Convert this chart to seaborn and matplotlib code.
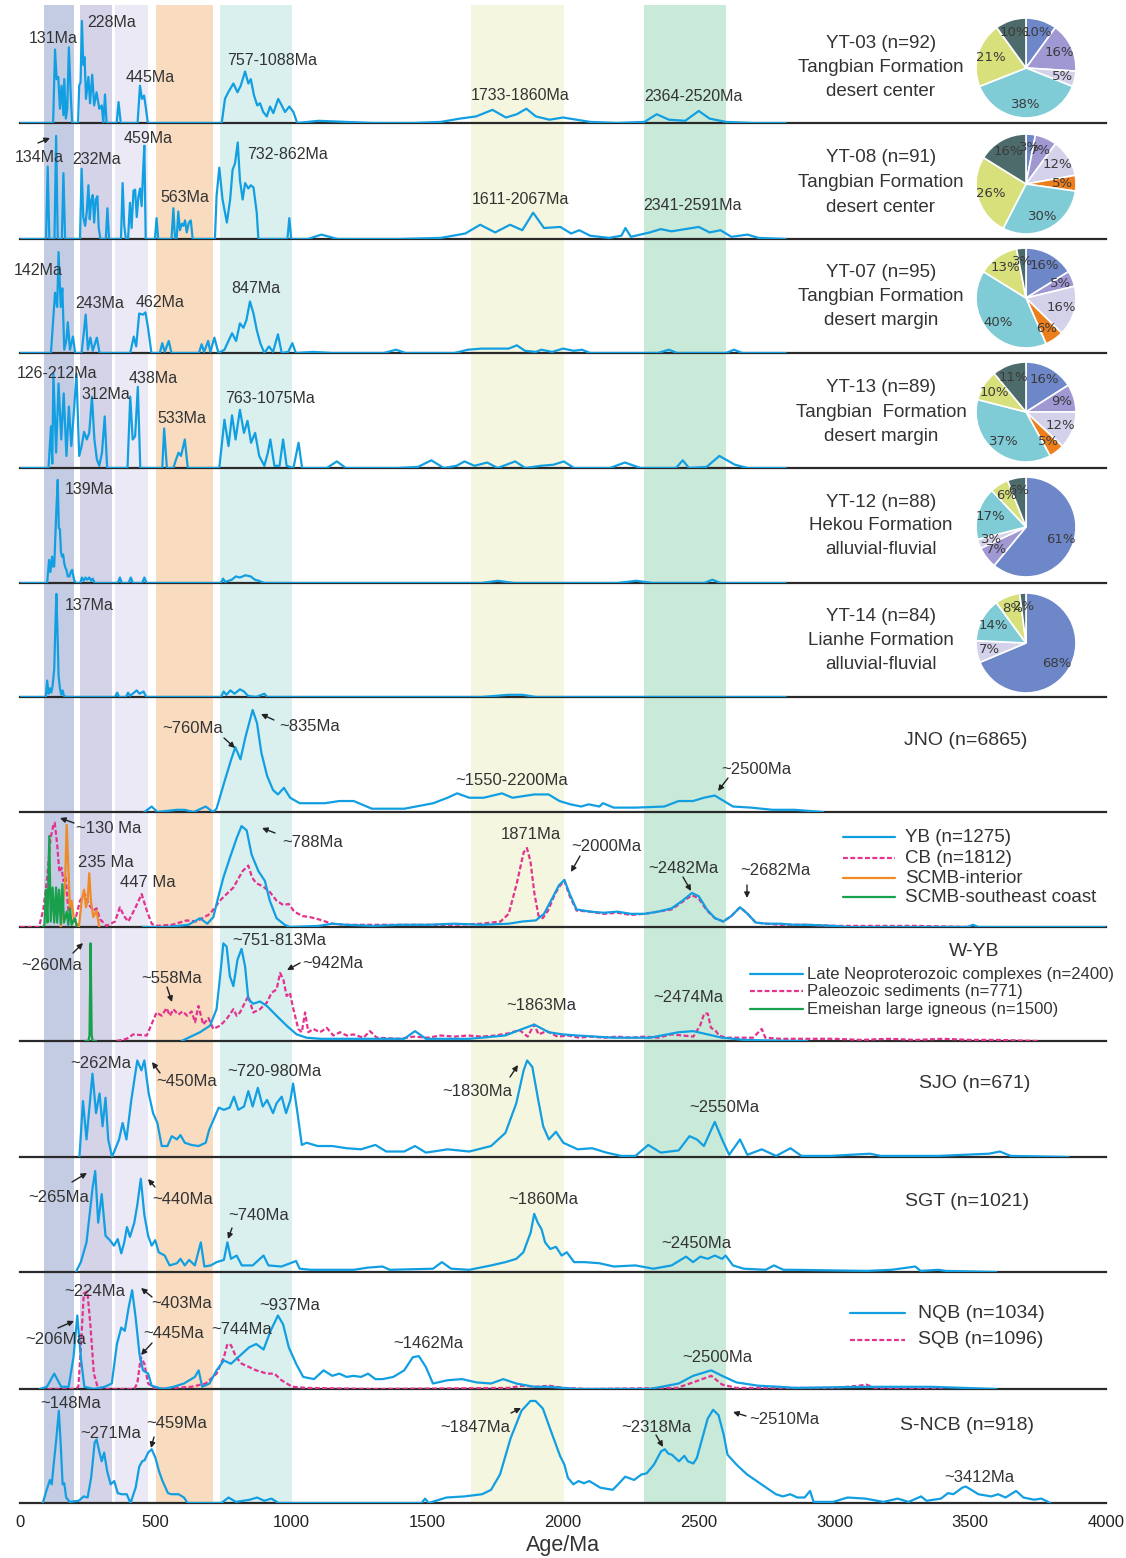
import numpy as np
import pandas as pd
import matplotlib
matplotlib.use("Agg")
import matplotlib.pyplot as plt
import seaborn as sns

# ---------------------------------------------------------------- data
# Relative probability curves: (age in Ma, relative probability, 0-100 scale)
YT03 = [(0,0),(122,0),(129,67),(135,40),(141,42),(147,13),(153,34),(160,7),(163,40),(169,4),(174,13),(180,69),
        (187,25),(192,0),(214,0),(218,34),(223,37),(228,93),(233,53),(238,60),(243,22),(252,42),(258,18),(266,44),
        (273,16),(282,28),(292,13),(301,16),(307,0),(313,26),(319,0),(356,0),(363,19),(371,0),(433,0),(442,34),
        (449,22),(457,25),(464,13),(471,0),(743,0),(755,22),(767,28),(786,36),(801,28),(813,34),(829,47),(841,36),
        (850,40),(862,25),(874,16),(884,18),(896,10),(909,6),(921,15),(933,9),(951,22),(964,16),(976,10),(992,15),
        (1007,10),(1021,0),(1100,2),(1200,1),(1300,0),(1450,0),(1550,1),(1620,4),(1680,6),(1740,12),(1790,5),
        (1830,8),(1865,13),(1900,6),(1950,3),(2000,5),(2050,3),(2100,1),(2200,0),(2300,1),(2345,8),(2390,3),
        (2450,2),(2500,11),(2540,4),(2600,1),(2700,0),(2820,0)]
YT08 = [(0,0),(96,0),(102,66),(108,0),(127,0),(133,94),(139,0),(154,0),(160,60),(166,0),(221,0),(227,64),(233,20),
        (240,12),(246,25),(252,49),(257,18),(262,35),(268,40),(273,15),(279,36),(285,39),(290,10),(296,0),(316,0),
        (322,28),(328,0),(372,0),(378,51),(384,12),(390,0),(398,0),(405,33),(411,10),(418,44),(424,45),(430,20),
        (436,38),(442,46),(448,30),(453,60),(458,85),(463,0),(497,0),(503,19),(509,0),(558,0),(565,28),(571,0),
        (577,0),(583,25),(589,8),(596,14),(602,12),(608,17),(614,6),(622,15),(629,17),(636,0),(718,0),(724,39),
        (734,65),(746,36),(762,15),(774,36),(783,63),(792,69),(802,88),(810,54),(820,36),(829,51),(841,46),
        (850,49),(860,47),(872,24),(878,0),(985,0),(992,19),(999,0),(1060,0),(1110,4),(1170,0),(1400,0),(1550,1),
        (1640,5),(1695,13),(1750,6),(1805,13),(1850,8),(1890,24),(1930,10),(1990,11),(2030,5),(2060,8),(2100,3),
        (2170,1),(2215,3),(2230,10),(2250,2),(2320,6),(2360,9),(2400,7),(2450,9),(2500,11),(2540,6),(2580,8),
        (2620,2),(2680,4),(2720,1),(2820,0)]
YT07 = [(0,0),(114,0),(129,55),(137,42),(142,92),(150,42),(156,59),(163,3),(171,12),(176,28),(184,3),(195,15),
        (203,0),(227,0),(242,35),(250,3),(259,14),(268,2),(283,14),(293,0),(406,0),(419,15),(428,6),(439,36),
        (453,35),(462,37),(471,24),(484,0),(515,0),(524,9),(533,1),(548,11),(558,0),(659,0),(669,8),(678,1),
        (693,11),(701,1),(716,14),(731,0),(753,3),(781,18),(796,11),(810,27),(823,23),(834,30),(847,47),(860,36),
        (872,21),(885,9),(900,0),(917,6),(932,1),(950,17),(964,0),(988,1),(1003,9),(1016,0),(1080,1),(1150,0),
        (1340,0),(1385,3),(1420,0),(1600,0),(1650,3),(1700,4),(1760,4),(1800,4),(1830,7),(1860,2),(1900,1),
        (1920,3),(1960,1),(2000,4),(2040,2),(2070,3),(2100,0),(2350,0),(2390,3),(2420,0),(2600,0),(2630,3),
        (2660,0),(2820,0)]
YT13 = [(0,0),(105,0),(114,38),(119,4),(123,86),(133,14),(142,77),(152,26),(161,68),(171,11),(180,56),(189,20),
        (199,53),(208,86),(218,11),(227,20),(236,33),(246,26),(255,32),(265,65),(274,26),(283,8),(292,2),(302,14),
        (312,47),(321,0),(396,0),(406,65),(415,26),(424,29),(434,74),(443,0),(524,0),(531,36),(541,0),(565,0),
        (575,8),(584,14),(593,11),(607,26),(618,0),(734,0),(753,44),(768,20),(781,48),(794,26),(810,53),(825,32),
        (838,43),(851,23),(866,32),(881,11),(900,2),(913,14),(922,26),(937,2),(956,2),(969,26),(982,2),(1007,0),
        (1026,23),(1039,0),(1130,0),(1167,6),(1200,0),(1390,0),(1466,1),(1515,7),(1561,0),(1608,2),(1637,6),
        (1674,2),(1721,5),(1759,0),(1824,6),(1861,0),(1918,2),(1965,3),(2003,6),(2041,0),(2173,0),(2228,5),
        (2285,0),(2416,0),(2441,7),(2464,0),(2529,1),(2576,11),(2633,3),(2680,0),(2820,0)]
YT12 = [(0,0),(100,0),(107,21),(112,10),(118,24),(122,15),(126,15),(134,67),(139,94),(143,50),(147,49),(151,28),
        (155,24),(159,26),(163,18),(167,14),(171,12),(176,6),(182,6),(187,10),(192,12),(199,3),(206,0),(222,0),
        (228,5),(235,2),(241,5),(248,3),(255,5),(262,2),(268,4),(275,0),(360,0),(368,5),(375,0),(400,0),(408,5),
        (416,0),(450,0),(458,5),(466,0),(740,0),(748,4),(756,1),(780,3),(795,6),(810,5),(830,7),(850,6),(865,3),
        (880,2),(900,0),(1700,0),(1760,2),(1820,0),(2200,0),(2270,2),(2330,0),(2520,0),(2550,3),(2580,0),(2820,0)]
YT14 = [(0,0),(95,0),(100,15),(105,3),(110,8),(115,4),(120,10),(126,25),(131,70),(134,94),(138,60),(142,20),
        (147,8),(152,2),(157,6),(162,1),(170,0),(350,0),(358,4),(365,0),(390,0),(398,4),(405,1),(420,4),(430,6),
        (440,3),(455,5),(465,0),(740,0),(750,5),(760,2),(775,6),(790,3),(810,7),(825,5),(840,1),(870,0),(900,3),
        (910,0),(1700,0),(1800,2),(1850,2),(1900,0),(2820,0)]
JNO = [(458,0),(485,5),(506,0),(578,2),(605,2),(640,0),(684,5),(711,0),(724,3),(751,26),(778,48),(793,59),(812,48),
       (831,69),(857,93),(873,81),(889,54),(910,33),(932,20),(950,16),(972,22),(995,13),(1030,8),(1123,8),
       (1176,10),(1229,10),(1296,3),(1416,3),(1522,8),(1575,13),(1610,17),(1655,13),(1708,13),(1775,17),
       (1814,13),(1894,16),(1947,16),(1987,10),(2027,7),(2067,5),(2094,7),(2134,5),(2147,8),(2187,4),(2267,4),
       (2373,5),(2426,10),(2479,10),(2519,13),(2559,15),(2586,11),(2626,5),(2692,4),(2772,2),(2852,2),(2958,0)]
YB = [(454,0),(540,0),(620,2),(663,8),(690,3),(712,9),(730,27),(749,45),(773,63),(798,81),(816,92),(835,88),
      (853,66),(878,51),(902,42),(920,24),(945,8),(975,2),(994,0),(1100,1),(1150,3),(1200,2),(1300,1),(1400,2),
      (1500,2),(1600,3),(1700,2),(1800,3),(1850,5),(1900,6),(1930,12),(1960,26),(1985,38),(2005,43),(2025,30),
      (2050,16),(2100,14),(2150,13),(2200,14),(2250,12),(2300,12),(2350,14),(2400,17),(2440,24),(2475,31),
      (2500,28),(2530,16),(2560,8),(2590,5),(2620,10),(2652,18),(2680,12),(2710,4),(2750,3),(2800,3),(2850,2),
      (2900,2),(3000,1),(3050,0),(3490,0),(3510,2),(3530,0),(4000,0)]
CB = [(0,0),(70,0),(86,16),(100,45),(112,80),(123,93),(128,95),(137,75),(145,50),(153,54),(160,42),(168,46),
      (178,15),(190,6),(203,6),(221,24),(239,30),(252,21),(270,15),(282,17),(295,7),(319,1),(350,5),(368,18),
      (383,10),(399,5),(424,17),(448,30),(467,15),(485,3),(500,1),(560,2),(614,6),(650,5),(700,12),(740,25),
      (786,36),(820,51),(841,56),(855,45),(870,40),(895,37),(920,32),(945,24),(970,20),(990,21),(1010,14),
      (1040,10),(1068,9),(1100,7),(1150,3),(1200,2),(1300,2),(1400,2),(1500,2),(1600,2),(1700,3),(1770,5),
      (1800,12),(1830,40),(1855,68),(1867,72),(1880,60),(1895,30),(1910,10),(1925,8),(1945,15),(1970,30),
      (1990,38),(2005,42),(2025,28),(2050,15),(2100,14),(2150,12),(2200,13),(2250,11),(2300,12),(2350,14),
      (2400,16),(2440,23),(2475,29),(2500,26),(2530,15),(2560,8),(2590,5),(2620,10),(2652,18),(2680,12),
      (2710,4),(2750,3),(2800,2),(2900,2),(3000,1),(3100,1),(3200,1),(3300,1),(3500,0)]
SCMB_INTERIOR = [(150,0),(166,39),(172,93),(178,54),(184,15),(190,24),(199,6),(209,3),(217,0),(227,24),(236,34),
                 (243,18),(249,24),(255,49),(261,24),(270,9),(282,15),(292,0)]
SCMB_COAST = [(85,0),(90,2),(96,34),(101,4),(108,83),(113,5),(120,36),(126,4),(133,36),(137,4),(144,34),(150,3),
              (156,39),(162,4),(172,14),(178,2),(184,17),(190,2),(203,8),(209,0)]
WYB_NEOPROT = [(595,0),(663,8),(700,14),(724,29),(737,59),(749,89),(761,86),(773,59),(786,50),(801,74),(816,84),
               (829,68),(841,38),(859,34),(884,36),(909,32),(945,23),(982,14),(1019,6),(1056,3),(1105,2),
               (1256,2),(1415,2),(1455,9),(1495,2),(1655,2),(1787,5),(1840,10),(1894,15),(1947,8),(2000,6),
               (2054,5),(2187,3),(2320,3),(2426,8),(2479,9),(2533,6),(2586,3),(2666,1),(2851,0),(2900,0)]
WYB_PALEOZ = [(356,0),(393,2),(417,6),(467,5),(503,26),(522,23),(540,30),(552,23),(565,29),(583,24),(599,27),
              (616,23),(632,27),(645,17),(657,32),(675,15),(694,21),(712,11),(737,14),(761,20),(786,29),(798,23),
              (810,26),(841,41),(859,26),(884,29),(909,35),(927,44),(945,47),(958,62),(970,56),(982,41),(994,44),
              (1007,29),(1025,11),(1038,8),(1050,26),(1062,8),(1080,11),(1105,8),(1130,12),(1154,5),(1179,8),
              (1203,5),(1228,6),(1265,3),(1289,9),(1314,3),(1400,2),(1450,4),(1500,3),(1550,5),(1600,4),(1650,5),
              (1700,4),(1750,5),(1800,7),(1840,10),(1870,4),(1894,15),(1910,6),(1940,9),(1980,4),(2020,5),
              (2060,3),(2100,4),(2150,3),(2200,4),(2250,3),(2300,4),(2350,3),(2400,6),(2440,5),(2480,4),(2505,14),
              (2520,25),(2533,25),(2545,12),(2560,10),(2575,5),(2600,3),(2650,3),(2700,3),(2732,11),(2745,3),
              (2800,2),(2900,2),(3000,2),(3100,1),(3200,2),(3300,1),(3400,2),(3500,1),(3600,1),(3757,0)]
WYB_EMEISHAN = [(240,0),(252,0),(256,5),(260,89),(264,5),(268,0),(280,0)]
SJO = [(219,0),(232,51),(245,16),(267,76),(280,40),(293,58),(304,28),(315,54),(325,16),(339,0),(365,16),(378,31),
       (392,16),(410,52),(432,88),(447,79),(458,88),(474,58),(490,40),(506,31),(522,10),(543,10),(559,19),(578,16),
       (591,20),(607,13),(631,11),(658,10),(684,13),(697,25),(713,34),(732,45),(751,43),(772,45),(788,55),(804,43),
       (825,46),(841,60),(857,46),(876,63),(894,46),(910,52),(932,40),(945,49),(964,55),(980,40),(996,52),
       (1006,67),(1022,40),(1038,11),(1056,13),(1096,10),(1150,10),(1203,8),(1256,7),(1309,11),(1349,5),(1415,5),
       (1455,10),(1495,4),(1575,7),(1655,5),(1735,10),(1788,22),(1828,49),(1855,79),(1868,88),(1887,82),(1908,53),
       (1927,28),(1948,16),(1974,23),(2001,13),(2054,7),(2107,8),(2160,4),(2214,1),(2267,1),(2314,11),(2360,4),
       (2426,6),(2466,19),(2493,16),(2519,10),(2559,32),(2586,16),(2612,2),(2652,16),(2679,2),(2732,7),(2785,1),
       (2838,8),(2878,1),(2985,1),(3131,3),(3170,1),(3383,1),(3569,3),(3609,5),(3649,1),(3862,0)]
SGT = [(206,0),(224,9),(245,27),(267,76),(277,92),(288,45),(301,71),(315,33),(331,29),(346,24),(360,30),(373,17),
       (384,27),(394,41),(405,32),(421,45),(432,61),(445,85),(458,52),(472,33),(485,24),(498,29),(511,18),(533,15),
       (551,6),(578,8),(591,12),(607,6),(623,11),(644,6),(666,27),(679,5),(703,6),(724,9),(751,11),(764,27),
       (777,12),(798,15),(817,6),(857,6),(897,15),(915,6),(963,5),(1017,10),(1030,3),(1070,2),(1229,2),(1282,4),
       (1335,5),(1362,2),(1521,3),(1554,9),(1588,3),(1655,2),(1735,6),(1788,9),(1828,12),(1854,18),(1881,36),
       (1894,53),(1907,45),(1921,39),(1934,27),(1953,21),(1974,23),(1995,15),(2014,18),(2041,9),(2080,9),
       (2134,8),(2187,5),(2267,6),(2333,3),(2400,6),(2453,14),(2479,9),(2506,14),(2533,12),(2559,15),(2586,12),
       (2599,15),(2626,6),(2666,3),(2746,2),(2777,6),(2812,2),(2852,2),(3118,1),(3210,2),(3298,5),(3317,1),
       (3383,2),(3410,1),(3596,0)]
NQB = [(73,0),(99,2),(126,14),(152,2),(179,2),(197,29),(211,67),(224,29),(237,2),(272,0),(312,2),(338,5),(357,41),
       (373,56),(386,53),(400,74),(413,90),(426,65),(440,32),(453,17),(472,14),(485,3),(525,0),(565,2),(604,5),
       (644,11),(658,17),(671,2),(698,5),(724,17),(751,26),(777,23),(804,29),(844,38),(870,41),(897,36),(923,53),
       (950,67),(969,59),(990,38),(1017,23),(1043,11),(1083,9),(1118,17),(1150,12),(1176,14),(1203,11),(1229,12),
       (1256,11),(1282,14),(1309,9),(1335,9),(1375,11),(1415,17),(1447,29),(1469,30),(1495,20),(1521,5),(1575,8),
       (1628,9),(1682,6),(1735,5),(1780,9),(1828,5),(1894,2),(1947,2),(2054,0),(2320,0),(2426,5),(2479,12),
       (2546,17),(2586,12),(2639,6),(2719,3),(2798,2),(2852,1),(3118,2),(3356,2),(3596,0)]
SQB = [(73,0),(200,0),(215,2),(222,29),(235,87),(248,89),(259,59),(272,14),(288,0),(420,0),(432,5),(445,29),
       (458,23),(472,5),(498,0),(631,2),(684,5),(724,14),(751,29),(764,41),(777,40),(796,29),(817,23),(844,20),
       (870,17),(910,14),(937,14),(963,8),(1003,2),(1056,1),(1300,0),(1800,1),(1850,3),(1900,2),(1950,3),(2000,1),
       (2100,0),(2420,1),(2479,6),(2546,12),(2586,4),(2640,1),(2800,1),(3000,1),(3090,3),(3117,4),(3150,1),
       (3300,0),(3400,0)]
SNCB = [(84,0),(97,11),(110,21),(117,17),(124,35),(134,59),(143,84),(150,53),(157,17),(163,18),(170,5),(183,1),
        (216,2),(235,6),(249,5),(262,23),(275,55),(282,58),(292,47),(301,38),(310,46),(321,29),(334,17),(347,20),
        (360,9),(374,8),(393,8),(407,0),(426,14),(439,33),(450,38),(459,39),(472,46),(485,49),(499,41),(512,29),
        (525,20),(534,15),(545,9),(558,8),(584,8),(604,5),(617,0),(742,0),(768,5),(795,1),(847,3),(873,5),(900,2),
        (926,4),(952,0),(1479,0),(1492,4),(1505,0),(1571,5),(1637,6),(1702,8),(1735,12),(1768,26),(1807,59),
        (1847,84),(1880,93),(1899,93),(1926,86),(1952,68),(1989,43),(2005,35),(2018,23),(2038,17),(2057,20),
        (2077,18),(2097,20),(2117,17),(2137,14),(2183,12),(2203,17),(2229,24),(2262,21),(2289,26),(2308,27),
        (2335,35),(2361,47),(2375,49),(2388,45),(2401,44),(2414,41),(2427,38),(2447,43),(2460,38),(2480,36),
        (2493,41),(2513,59),(2533,77),(2553,85),(2573,80),(2592,62),(2606,44),(2639,35),(2678,26),(2731,17),
        (2784,8),(2810,6),(2837,8),(2863,5),(2890,5),(2910,11),(2923,1),(2995,1),(3048,5),(3114,4),(3180,1),
        (3233,4),(3273,1),(3319,6),(3339,2),(3392,4),(3418,9),(3438,8),(3471,14),(3484,15),(3504,12),(3530,8),
        (3577,6),(3603,8),(3630,5),(3669,11),(3696,5),(3735,3),(3762,4),(3795,0)]

# Pie percentages per source group (clockwise from 12 o'clock)
PIE_GROUPS = ["100-200 Ma", "200-340 Ma", "350-470 Ma", "500-710 Ma", "740-1000 Ma", "1660-2000 Ma", "2300-2600 Ma"]
YT03_PIE = [10, 16, 5, 0, 38, 21, 10]
YT08_PIE = [3, 7, 12, 5, 30, 26, 16]
YT07_PIE = [16, 5, 16, 6, 40, 13, 3]
YT13_PIE = [16, 9, 12, 5, 37, 10, 11]
YT12_PIE = [61, 7, 3, 0, 17, 6, 6]
YT14_PIE = [68, 0, 7, 0, 14, 8, 2]

# Age ranges highlighted across all panels
BAND_RANGES = [(90, 200), (220, 338), (350, 470), (500, 710), (737, 1000), (1660, 2005), (2300, 2600)]
X_TICKS = [0, 500, 1000, 1500, 2000, 2500, 3000, 3500, 4000]

# ---------------------------------------------------------------- style
sns.set_style("white")
plt.rcParams["font.family"] = ["Liberation Sans", "DejaVu Sans"]

BLUE = "#129FE2"
PINK = "#E2338F"
ORANGE = "#F08A24"
GREEN = "#18A04C"
TXT = "#333333"
BAND_COLORS = ["#C4CCE4", "#D5D3E8", "#EAE9F5", "#F9DCC0", "#D9F0EF", "#F5F6DF", "#C9E9D9"]
PIE_COLORS = ["#6E87C8", "#9F98D3", "#D4D1EA", "#EC7F1C", "#7FCBD6", "#D8E07C", "#4E6B6B"]

W, H = 1126, 1558
X0, XW = 20, 1086          # pixel position of age 0 and width of 0-4000 Ma
BASELINES = [123, 239, 353, 468, 583, 697, 812, 927, 1041, 1157, 1272, 1389, 1503]
PANEL_H = 113

fig = plt.figure(figsize=(W / 100, H / 100), dpi=100)
fig.patch.set_facecolor("white")

# shaded age bands behind every panel
bg = fig.add_axes([X0 / W, 1 - BASELINES[-1] / H, XW / W, (BASELINES[-1] - 5) / H])
bg.set_xlim(0, 4000)
bg.set_ylim(0, 1)
bg.axis("off")
for (a, b), c in zip(BAND_RANGES, BAND_COLORS):
    bg.axvspan(a, b, color=c, lw=0)


def curve(ax, pts, color, dashed=False, lw=1.6):
    df = pd.DataFrame(pts, columns=["age", "p"])
    kw = dict(linestyle=(0, (2.2, 1.1))) if dashed else dict(linestyle="-")
    sns.lineplot(data=df, x="age", y="p", ax=ax, color=color, lw=lw, estimator=None,
                 sort=False, legend=False, zorder=3, **kw)


PANEL_SERIES = [
    [(YT03, BLUE, False)],
    [(YT08, BLUE, False)],
    [(YT07, BLUE, False)],
    [(YT13, BLUE, False)],
    [(YT12, BLUE, False)],
    [(YT14, BLUE, False)],
    [(JNO, BLUE, False)],
    [(CB, PINK, True), (SCMB_INTERIOR, ORANGE, False), (SCMB_COAST, GREEN, False), (YB, BLUE, False)],
    [(WYB_PALEOZ, PINK, True), (WYB_NEOPROT, BLUE, False), (WYB_EMEISHAN, GREEN, False)],
    [(SJO, BLUE, False)],
    [(SGT, BLUE, False)],
    [(SQB, PINK, True), (NQB, BLUE, False)],
    [(SNCB, BLUE, False)],
]

axes = []
for i, (base, series) in enumerate(zip(BASELINES, PANEL_SERIES)):
    ax = fig.add_axes([X0 / W, 1 - base / H, XW / W, PANEL_H / H])
    ax.set_facecolor("none")
    for pts, col, dash in series:
        curve(ax, pts, col, dash)
    ax.set_xlim(0, 4000)
    ax.set_ylim(0, 103)
    ax.set_xlabel("")
    ax.set_ylabel("")
    ax.set_yticks([])
    for s in ["top", "left", "right"]:
        ax.spines[s].set_visible(False)
    ax.spines["bottom"].set_color("#2a2a2a")
    ax.spines["bottom"].set_linewidth(1.6)
    ax.spines["bottom"].set_zorder(2)
    ax.set_xticks(X_TICKS)
    ax.set_xticks(np.arange(0, 4001, 100), minor=True)
    ax.tick_params(axis="x", which="major", direction="inout", length=5, width=1.0, color="#2a2a2a",
                   labelsize=12, labelcolor="#222222", pad=6)
    ax.tick_params(axis="x", which="minor", direction="inout", length=3, width=0.8, color="#2a2a2a")
    if i < len(BASELINES) - 1:
        ax.set_xticklabels([])
    axes.append(ax)

# pies of source-group proportions
PIES = [(YT03_PIE, 68), (YT08_PIE, 184), (YT07_PIE, 298), (YT13_PIE, 412), (YT12_PIE, 527), (YT14_PIE, 643)]
R = 51
for vals, cy in PIES:
    pax = fig.add_axes([(1026 - R) / W, 1 - (cy + R) / H, 2 * R / W, 2 * R / H])
    keep = [(v, c) for v, c in zip(vals, PIE_COLORS) if v > 0]
    v_list = [k[0] for k in keep]
    lab_iter = iter(v_list)
    pax.pie(v_list, colors=[k[1] for k in keep], startangle=90, counterclock=False,
            wedgeprops=dict(edgecolor="white", linewidth=1.2),
            autopct=lambda p: f"{next(lab_iter)}%", pctdistance=0.74,
            textprops=dict(fontsize=9.5, color="#3a3a3a", family=["DejaVu Sans"]))
    pax.set_aspect("equal")
    pax.set_xlim(-1.02, 1.02)
    pax.set_ylim(-1.02, 1.02)

# overlay in pixel coordinates for text, arrows and legend keys
ov = fig.add_axes([0, 0, 1, 1])
ov.set_xlim(0, W)
ov.set_ylim(H, 0)
ov.axis("off")
ov.patch.set_alpha(0)


def t(x, y, s, fs=12, ha="center"):
    ov.text(x, y, s, fontsize=fs, ha=ha, va="center", color=TXT)


def arrow(x1, y1, x2, y2):
    ov.annotate("", xy=(x2, y2), xytext=(x1, y1),
                arrowprops=dict(arrowstyle="-|>", color="#222222", lw=1.0, mutation_scale=8,
                                shrinkA=0, shrinkB=0))


# sample descriptions
SAMPLES = [
    (("YT-03 (n=92)", "Tangbian Formation", "desert center"), (43, 67, 91)),
    (("YT-08 (n=91)", "Tangbian Formation", "desert center"), (157, 182, 207)),
    (("YT-07 (n=95)", "Tangbian Formation", "desert margin"), (272, 296, 320)),
    (("YT-13 (n=89)", "Tangbian  Formation", "desert margin"), (387, 412, 436)),
    (("YT-12 (n=88)", "Hekou Formation", "alluvial-fluvial"), (502, 525, 549)),
    (("YT-14 (n=84)", "Lianhe Formation", "alluvial-fluvial"), (616, 640, 664)),
]
for lines, ys in SAMPLES:
    for s, y in zip(lines, ys):
        t(881, y, s, fs=13.5)

t(966, 740, "JNO (n=6865)", fs=14)
t(975, 1083, "SJO (n=671)", fs=14)
t(967, 1201, "SGT (n=1021)", fs=14)
t(967, 1425, "S-NCB (n=918)", fs=14)
t(974, 951, "W-YB", fs=14)

# legends
for y, col, dash, s in [(837, BLUE, False, "YB (n=1275)"), (858, PINK, True, "CB (n=1812)"),
                        (878, ORANGE, False, "SCMB-interior"), (897, GREEN, False, "SCMB-southeast coast")]:
    ov.plot([843, 895], [y, y], color=col, lw=1.6, linestyle=(0, (2.2, 1.1)) if dash else "-")
    t(905, y, s, fs=13.5, ha="left")
for y, col, dash, s in [(974, BLUE, False, "Late Neoproterozoic complexes (n=2400)"),
                        (991, PINK, True, "Paleozoic sediments (n=771)"),
                        (1009, GREEN, False, "Emeishan large igneous (n=1500)")]:
    ov.plot([750, 803], [y, y], color=col, lw=1.6, linestyle=(0, (2.2, 1.1)) if dash else "-")
    t(807, y, s, fs=12, ha="left")
for y, col, dash, s in [(1313, BLUE, False, "NQB (n=1034)"), (1340, PINK, True, "SQB (n=1096)")]:
    ov.plot([850, 905], [y, y], color=col, lw=1.6, linestyle=(0, (2.2, 1.1)) if dash else "-")
    t(918, y, s, fs=14, ha="left")

# peak annotations
FS_TOP = 11.5
for s, x, y in [("131Ma", 53, 38), ("228Ma", 112, 22), ("445Ma", 150, 77), ("757-1088Ma", 272, 60),
                ("1733-1860Ma", 520, 95), ("2364-2520Ma", 693, 96),
                ("134Ma", 39, 157), ("232Ma", 97, 159), ("459Ma", 148, 138), ("563Ma", 185, 197),
                ("732-862Ma", 288, 154), ("1611-2067Ma", 520, 199), ("2341-2591Ma", 693, 205),
                ("142Ma", 38, 270), ("243Ma", 100, 303), ("462Ma", 160, 302), ("847Ma", 256, 288),
                ("126-212Ma", 57, 373), ("312Ma", 106, 394), ("438Ma", 153, 378), ("533Ma", 182, 418),
                ("763-1075Ma", 270, 398), ("139Ma", 89, 489), ("137Ma", 89, 605)]:
    t(x, y, s, fs=FS_TOP)
arrow(38, 143, 50, 138)

FS = 12
for s, x, y in [("~760Ma", 193, 728), ("~835Ma", 310, 726), ("~1550-2200Ma", 512, 780), ("~2500Ma", 756, 769),
                ("~130 Ma", 109, 828), ("235 Ma", 106, 862), ("447 Ma", 148, 882), ("~788Ma", 313, 842),
                ("1871Ma", 531, 834), ("~2000Ma", 606, 846), ("~2482Ma", 683, 868), ("~2682Ma", 775, 870),
                ("~260Ma", 52, 965), ("~558Ma", 172, 978), ("~751-813Ma", 279, 940), ("~942Ma", 333, 963),
                ("~1863Ma", 541, 1005), ("~2474Ma", 688, 997),
                ("~262Ma", 101, 1063), ("~450Ma", 187, 1081), ("~720-980Ma", 274, 1071),
                ("~1830Ma", 477, 1091), ("~2550Ma", 724, 1108),
                ("~265Ma", 59, 1197), ("~440Ma", 183, 1199), ("~740Ma", 259, 1215), ("~1860Ma", 543, 1200),
                ("~2450Ma", 696, 1243),
                ("~224Ma", 95, 1291), ("~403Ma", 182, 1304), ("~206Ma", 56, 1340), ("~445Ma", 174, 1333),
                ("~744Ma", 242, 1330), ("~937Ma", 290, 1305), ("~1462Ma", 428, 1343), ("~2500Ma", 717, 1358),
                ("~148Ma", 71, 1404), ("~271Ma", 111, 1433), ("~459Ma", 177, 1424), ("~1847Ma", 475, 1428),
                ("~2318Ma", 656, 1427), ("~2510Ma", 784, 1420), ("~3412Ma", 979, 1478)]:
    t(x, y, s, fs=FS)

for a in [(224, 738, 235, 748), (274, 720, 261, 714), (728, 778, 718, 791),
          (74, 823, 60, 818), (275, 833, 262, 828), (580, 856, 571, 872), (683, 877, 691, 891),
          (747, 885, 747, 898),
          (73, 953, 83, 943), (167, 987, 172, 1002), (300, 963, 287, 970),
          (160, 1073, 152, 1062), (510, 1077, 518, 1065),
          (72, 1182, 87, 1173), (155, 1187, 148, 1179), (232, 1228, 228, 1239),
          (152, 1297, 141, 1288), (58, 1328, 74, 1321), (152, 1343, 141, 1355),
          (154, 1437, 151, 1448), (511, 1413, 521, 1408), (656, 1435, 663, 1447), (746, 1416, 733, 1412)]:
    arrow(*a)

t(563, 1545, "Age/Ma", fs=15.5)

fig.savefig("out.png", dpi=100)
